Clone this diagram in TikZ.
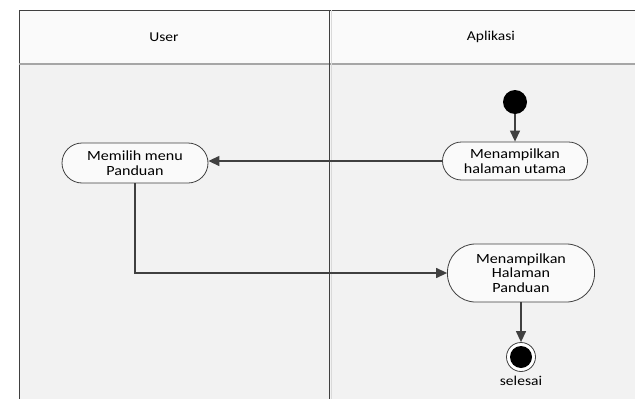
\documentclass[tikz,border=0pt]{standalone}
\usepackage{fontspec}
\setmainfont{Carlito}[FakeStretch=1.15]
\usetikzlibrary{arrows.meta}
\definecolor{lane}{HTML}{F2F2F2}
\definecolor{head}{HTML}{FAFAFA}
\definecolor{ln}{HTML}{404040}
\tikzset{
  act/.style={draw=ln, line width=0.8pt, fill=head, rounded corners=19pt, minimum height=#1, inner sep=2pt, align=center, font=\fontsize{14}{14.5}\selectfont},
  flow/.style={draw=ln, line width=1.3pt, -{Triangle[length=11pt,width=10pt]}},
  lbl/.style={font=\fontsize{13.5}{14}\selectfont}
}
\begin{document}
\begin{tikzpicture}[x=1pt,y=-1pt]
\useasboundingbox (0,0) rectangle (635,399);
% lanes
\fill[lane] (19,63) rectangle (635,399);
\fill[head] (19,10) rectangle (635,63);
\draw[ln, line width=1pt] (19,399) -- (19,10) -- (635,10);
\draw[gray!70, line width=1.6pt] (19,64) -- (635,64);
\draw[black!75, line width=1pt] (329,10) -- (329,399);
\draw[black!15, line width=1pt] (331,10) -- (331,399);
\node[lbl] (user) at (164,37) {User};
\node[lbl] (apl) at (491,37) {Aplikasi};
% nodes
\node[circle, fill=black, minimum size=24pt, inner sep=0pt] (start) at (515,102) {};
\node[act=38pt, minimum width=145pt] (utama) at (515,161) {Menampilkan\\halaman utama};
\node[act=40pt, minimum width=146pt, rounded corners=20pt] (menu) at (135,163) {Memilih menu\\Panduan};
\node[act=58pt, minimum width=147pt, rounded corners=28pt] (pand) at (521,273) {Menampilkan\\Halaman\\Panduan};
\node[circle, draw=ln, line width=0.8pt, fill=white, minimum size=29pt, inner sep=0pt] (end) at (521,357) {};
\node[circle, fill=black, minimum size=22pt, inner sep=0pt] at (end) {};
\node[lbl] (sel) at (521,381) {selesai};
% connectors
\draw[flow] (start) -- (utama);
\draw[flow] (utama.west) -- (menu.east |- utama.west);
\draw[flow] (menu.south) |- (pand.west);
\draw[flow] (pand) -- (end);
\end{tikzpicture}
\end{document}
